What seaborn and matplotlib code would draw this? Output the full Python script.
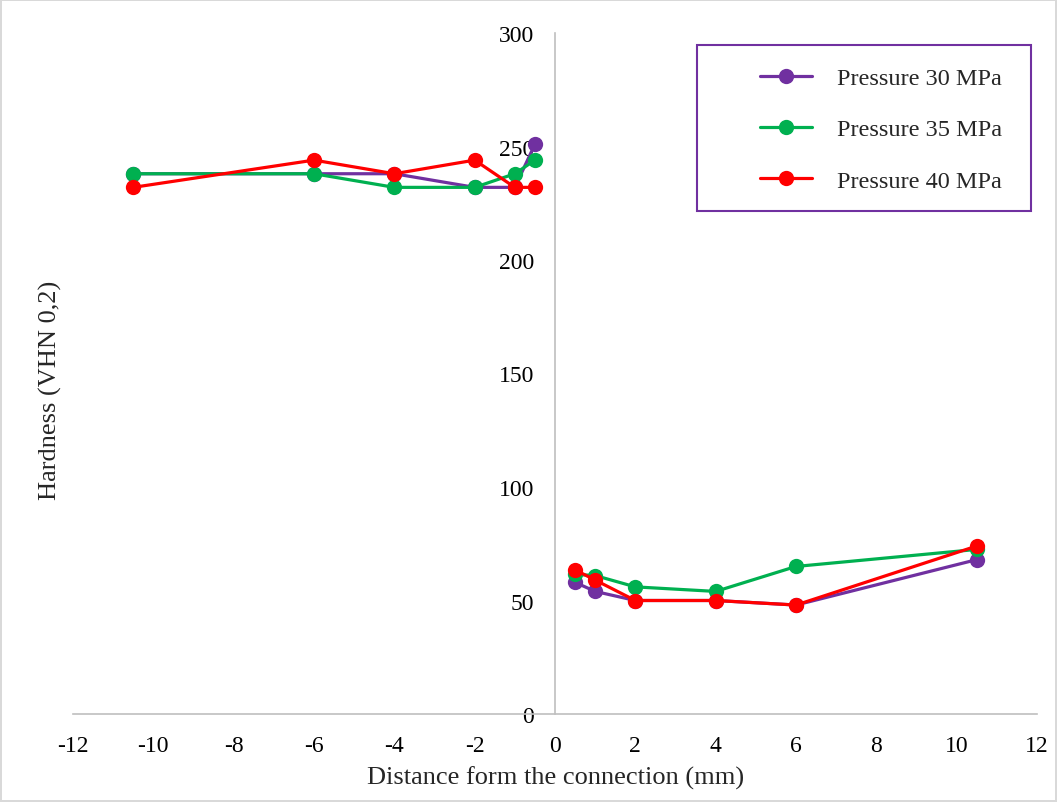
####
#imports
####

import numpy as np
import pandas as pd
import matplotlib
matplotlib.use('Agg')
import matplotlib.pyplot as plt
from matplotlib.lines import Line2D
from matplotlib.patches import Rectangle
import seaborn as sns

####
#data
####

left_x = [-10.5, -6, -4, -2, -1, -0.5]
right_x = [0.5, 1, 2, 4, 6, 10.5]

p30_left = [238, 238, 238, 232, 232, 251]
p35_left = [238, 238, 232, 232, 238, 244]
p40_left = [232, 244, 238, 244, 232, 232]

p30_right = [58, 54, 50, 50, 48, 68]
p35_right = [61.5, 61, 56, 54, 65, 72.5]
p40_right = [63.5, 59, 50, 50, 48, 74]

series_names = ["Pressure 30 MPa", "Pressure 35 MPa", "Pressure 40 MPa"]
series_colors = ["#7030A0", "#00B050", "#FF0000"]

x_ticks = [-12, -10, -8, -6, -4, -2, 0, 2, 4, 6, 8, 10, 12]
y_ticks = [0, 50, 100, 150, 200, 250, 300]

####
#defs
####

def build_frame():
    rows = []
    left_vals = [p30_left, p35_left, p40_left]
    right_vals = [p30_right, p35_right, p40_right]
    for name, lv, rv in zip(series_names, left_vals, right_vals):
        for x, y in zip(left_x, lv):
            rows.append({"distance": x, "hardness": y, "series": name, "side": "left"})
        for x, y in zip(right_x, rv):
            rows.append({"distance": x, "hardness": y, "series": name, "side": "right"})
    return pd.DataFrame(rows)


def main():
    sns.set_style("white")
    plt.rcParams['font.family'] = ['Liberation Serif', 'DejaVu Serif']

    df = build_frame()
    palette = dict(zip(series_names, series_colors))

    fig = plt.figure(figsize=(10.57, 8.03), dpi=100)
    fig.patch.set_edgecolor('#D9D9D9')
    fig.patch.set_linewidth(1.5)
    ax = fig.add_axes([73 / 1057, 88 / 803, 964 / 1057, 681 / 803])

    sns.lineplot(data=df, x="distance", y="hardness", hue="series", units="side",
                 estimator=None, sort=False, palette=palette, hue_order=series_names,
                 marker='o', markersize=11, markeredgewidth=0, linewidth=2.3,
                 legend=False, ax=ax)

    # spines first: moving them resets the ticks
    for s in ['top', 'right']:
        ax.spines[s].set_visible(False)
    ax.spines['left'].set_position(('data', 0))
    ax.spines['bottom'].set_position(('data', 0))
    for s in ['left', 'bottom']:
        ax.spines[s].set_color('#BFBFBF')
        ax.spines[s].set_linewidth(1.2)

    ax.set_xlim(-12, 12)
    ax.set_ylim(0, 300)
    ax.set_xticks(x_ticks)
    ax.set_yticks(y_ticks)
    ax.set_xticklabels([str(t) for t in x_ticks])
    ax.set_yticklabels([str(t) for t in y_ticks])
    ax.tick_params(axis='both', length=0, labelsize=17, colors='black')
    ax.tick_params(axis='y', pad=15)
    ax.tick_params(axis='x', pad=15)

    ax.set_xlabel("")
    ax.set_ylabel("")
    fig.text(556 / 1057, 1 - 778 / 803, "Distance form the connection (mm)",
             ha='center', va='center', fontsize=19)
    fig.text(50 / 1057, 1 - 390 / 803, "Hardness (VHN 0,2)", rotation=90,
             ha='center', va='center', fontsize=19)

    # legend box
    fig.patches.append(Rectangle((697 / 1057, 1 - 212 / 803), 334 / 1057, 166 / 803,
                                 transform=fig.transFigure, fill=False,
                                 edgecolor='#7030A0', linewidth=1.5))
    handles = [Line2D([0], [0], color=c, linewidth=2.3, marker='o', markersize=11,
                      markeredgewidth=0) for c in series_colors]
    fig.legend(handles, series_names, loc='upper left', frameon=False,
               bbox_to_anchor=(748 / 1057, 1 - 56 / 803), bbox_transform=fig.transFigure,
               fontsize=17.5, handlelength=2.15, handletextpad=1.0, labelspacing=1.2,
               borderpad=0)

    fig.savefig("out.png", dpi=100)
    plt.close(fig)


if __name__ == '__main__':
    main()
